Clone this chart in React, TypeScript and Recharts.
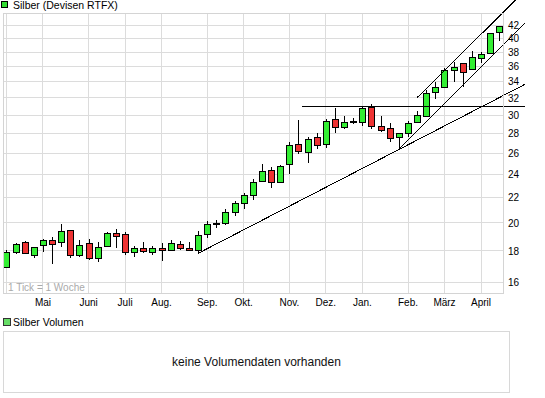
import { ComposedChart, Bar, XAxis, YAxis, CartesianGrid, ReferenceLine } from 'recharts';

// weekly candles, Apr 2010 - Apr 2011
const opens = [
  16.97, 17.91, 18.62, 17.75, 18.39, 18.74, 18.6, 19.46, 17.73, 18.53, 17.53, 18.32, 19.24, 19.16,
  17.93, 18.18, 17.91, 18.22, 18.05, 18.5, 18.2, 18.07, 19.16, 19.92, 19.97, 20.84, 21.54, 22.19,
  23.45, 24.38, 23.36, 24.94, 26.87, 26.09, 27.61, 26.87, 29.57, 28.66, 29.3, 29.21, 30.89, 28.78,
  28.55, 27.61, 28.1, 29.21, 29.9, 32.7, 33.36, 35.6, 36.46, 35.64, 37.23, 37.86, 41.05,
];
const highs = [
  18.07, 18.55, 18.71, 18.29, 18.8, 18.95, 19.9, 19.5, 18.74, 18.8, 18.6, 19.3, 19.53, 19.3,
  18.34, 18.6, 18.34, 18.53, 18.78, 18.68, 18.64, 19.43, 20.12, 20.22, 21.08, 21.72, 22.36, 23.6,
  24.94, 24.66, 24.85, 27.13, 29.46, 27.6, 28.0, 29.54, 30.78, 29.9, 29.73, 31.01, 31.29, 29.9,
  29.16, 28.1, 29.4, 30.5, 32.99, 33.96, 35.8, 36.69, 36.5, 38.18, 38.1, 40.9, 42.0,
];
const lows = [
  16.95, 17.8, 17.78, 17.55, 17.91, 17.12, 18.25, 17.51, 17.6, 17.4, 17.25, 18.3, 18.22, 17.73,
  17.62, 17.84, 17.71, 17.35, 18.03, 18.07, 18.05, 17.84, 18.88, 19.6, 19.83, 20.53, 21.08, 21.8,
  23.4, 22.84, 23.3, 24.02, 25.89, 25.03, 26.44, 26.54, 28.01, 28.44, 29.03, 28.84, 28.44, 28.2,
  27.15, 26.38, 27.61, 29.09, 29.85, 31.84, 33.29, 34.03, 33.36, 35.6, 36.46, 37.8, 39.7,
];
const closes = [
  17.91, 18.46, 17.84, 18.29, 18.74, 18.46, 19.38, 17.73, 18.43, 17.51, 18.25, 19.24, 19.06, 17.91,
  18.2, 18.0, 18.2, 18.05, 18.53, 18.18, 18.07, 19.14, 19.9, 19.97, 20.84, 21.56, 22.19, 23.3,
  24.35, 23.3, 24.78, 26.78, 26.22, 27.41, 26.78, 29.32, 28.66, 29.21, 29.34, 30.78, 28.78, 28.41,
  27.51, 28.01, 29.09, 30.0, 32.58, 33.29, 35.55, 35.92, 35.25, 37.37, 37.72, 40.81, 41.95,
];

const monthTicks = [0, 4, 9, 13, 17, 22, 26, 31, 35, 39, 44, 48, 52];
const monthLabels = ['', 'Mai', 'Juni', 'Juli', 'Aug.', 'Sep.', 'Okt.', 'Nov.', 'Dez.', 'Jan.', 'Feb.', 'März', 'April'];
const priceTicks = [16, 18, 20, 22, 24, 26, 28, 30, 32, 34, 36, 38, 40, 42];

// trend lines: week from, price from, week to, price to
const trendLines = [
  [21, 17.84, 56.82, 33.69],
  [43, 26.38, 56.82, 42.38],
  [45.02, 32.07, 56.82, 47.9],
  [32.38, 31.0, 56.82, 31.0],
];

const data = opens.map((o, i) => ({
  week: i,
  open: o,
  high: highs[i],
  low: lows[i],
  close: closes[i],
  range: [lows[i], highs[i]],
}));

function Candle(props: any) {
  const { x, y, width, height, payload } = props;
  if (x == null || y == null || !payload) return null;
  const { open, close, high, low } = payload;
  const top = Math.min(y, y + height);
  const bottom = Math.max(y, y + height);
  // log axis: position inside the high/low span is linear in ln(value)
  const span = Math.log(high) - Math.log(low);
  const toY = (v: number) =>
    span > 0 ? bottom - ((Math.log(v) - Math.log(low)) / span) * (bottom - top) : top;
  const cx = Math.round(x + width / 2);
  const yo = toY(open);
  const yc = toY(close);
  const bTop = Math.round(Math.min(yo, yc)) + 0.5;
  const bBot = Math.max(Math.round(Math.max(yo, yc)) + 0.5, bTop + 1);
  const up = close >= open;
  return (
    <g>
      <line x1={cx + 0.5} x2={cx + 0.5} y1={top} y2={bottom} stroke="#000" shapeRendering="crispEdges" />
      <rect
        x={cx - 2.5}
        y={bTop}
        width={6}
        height={bBot - bTop}
        fill={up ? '#33ee33' : '#ee3333'}
        stroke="#000"
        shapeRendering="crispEdges"
      />
    </g>
  );
}

const font = '"Liberation Sans", Arial, sans-serif';

export default function App() {
  return (
    <div style={{ position: 'absolute', left: 0, top: 0, width: 545, height: 398, background: '#fff', fontFamily: font }}>
      {/* top legend */}
      <div style={{ position: 'absolute', left: 1, top: 1, width: 5, height: 5, background: '#33dd33', border: '1px solid #000' }} />
      <div style={{ position: 'absolute', left: 13, top: -1, fontSize: 10.5, lineHeight: '12px', color: '#000', whiteSpace: 'nowrap' }}>
        Silber (Devisen RTFX)
      </div>

      <div style={{ position: 'absolute', left: 0, top: 0 }}>
        <ComposedChart width={545} height={310} data={data} margin={{ top: 13, right: 0, bottom: 0, left: 3 }}>
          <CartesianGrid stroke="#dcdcdc" shapeRendering="crispEdges" />
          <XAxis
            dataKey="week"
            type="number"
            domain={[-0.38, 54.41]}
            allowDataOverflow
            ticks={monthTicks}
            interval={0}
            tickFormatter={(v: number) => monthLabels[monthTicks.indexOf(v)] ?? ''}
            axisLine={false}
            tickLine={false}
            tickSize={0}
            tickMargin={6}
            height={17}
            tick={{ fill: '#000', fontSize: 10, fontFamily: font }}
          />
          <YAxis
            orientation="right"
            scale="log"
            domain={[15.37, 44.05]}
            allowDataOverflow
            ticks={priceTicks}
            interval={0}
            width={42}
            axisLine={false}
            tickLine={false}
            tickSize={0}
            tickMargin={5}
            tick={{ fill: '#000', fontSize: 10, fontFamily: font }}
          />
          <Bar dataKey="range" barSize={7} shape={(p: any) => <Candle {...p} />} isAnimationActive={false} />
          {trendLines.map((t, i) => (
            <ReferenceLine
              key={i}
              segment={[{ x: t[0], y: t[1] }, { x: t[2], y: t[3] }]}
              stroke="#000"
              strokeWidth={1}
              ifOverflow="visible"
              shapeRendering="crispEdges"
            />
          ))}
        </ComposedChart>
      </div>

      {/* plot frame */}
      <div style={{ position: 'absolute', left: 3, top: 13, width: 499, height: 279, border: '1px solid #d4d4d4', pointerEvents: 'none' }} />
      <div style={{ position: 'absolute', left: 8, top: 282, fontSize: 10, lineHeight: '11px', color: '#aaa', whiteSpace: 'nowrap' }}>
        1 Tick = 1 Woche
      </div>

      {/* volume panel */}
      <div style={{ position: 'absolute', left: 3, top: 318, width: 6, height: 6, background: '#66dd66', border: '1px solid #333' }} />
      <div style={{ position: 'absolute', left: 13, top: 316, fontSize: 10.5, lineHeight: '12px', color: '#000', whiteSpace: 'nowrap' }}>
        Silber Volumen
      </div>
      <div
        style={{
          position: 'absolute',
          left: 3,
          top: 331,
          width: 505,
          height: 60,
          border: '1px solid #d8d8d8',
          display: 'flex',
          alignItems: 'center',
          justifyContent: 'center',
          fontSize: 12,
          color: '#111',
        }}
      >
        keine Volumendaten vorhanden
      </div>
    </div>
  );
}
